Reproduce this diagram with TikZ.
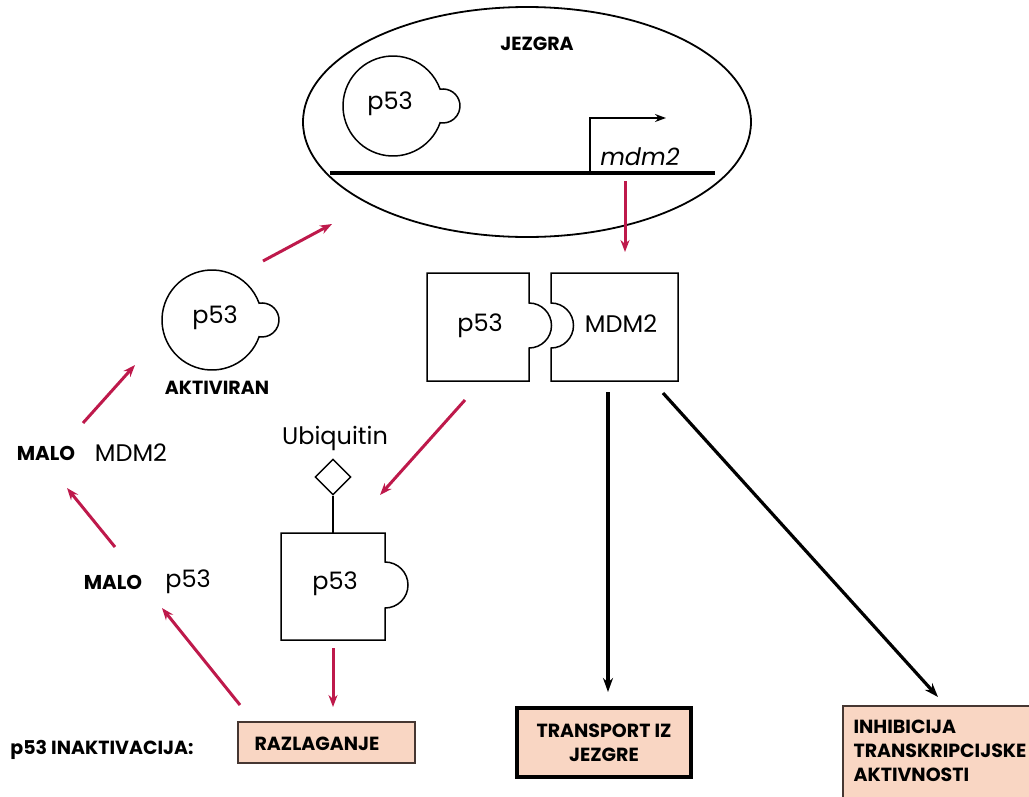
\documentclass[tikz,border=0pt]{standalone}
\usepackage{fontspec}
\setmainfont{Poppins}
\usetikzlibrary{arrows.meta,shapes.geometric,positioning}
\definecolor{arrowred}{RGB}{190,25,75}
\definecolor{peachfill}{RGB}{249,214,195}
\definecolor{boxedge}{RGB}{70,55,50}
\tikzset{
  blob/.pic={\draw[line width=1.5pt] (19.6:50) arc[start angle=19.6,end angle=340.4,radius=50]
               arc[start angle=-99.8,end angle=99.8,radius=17] -- cycle;}
}

\begin{document}
\begin{tikzpicture}[x=1pt,y=-1pt,
    lbl/.style={font=\fontsize{24}{28}\selectfont},
    caps/.style={font=\bfseries\fontsize{19}{24}\selectfont},
    smallcaps/.style={font=\bfseries\fontsize{20}{24}\selectfont},
    redarr/.style={draw=arrowred,line width=3pt,-{Stealth[length=12pt,width=9pt]}},
    blackarr/.style={line width=3.2pt,-{Stealth[length=14pt,width=10pt]}},
    piece/.style={line width=1.5pt}]
  \path[use as bounding box] (0,0) rectangle (1029,796);
  \clip (0,0) rectangle (1029,796);

  % jezgra
  \node[draw,ellipse,line width=1.8pt,minimum width=448pt,minimum height=230pt] (jezgra) at (527,122) {};
  \node[caps] (jez) at (537,44) {JEZGRA};
  \pic at (393,106) {blob};
  \node[lbl] (p53n) at (390,104) {p53};
  \draw[line width=3.2pt] (330,173) -- (715,173);
  \draw[line width=1.4pt,-{Stealth[length=11pt,width=8pt]}] (590,173) -- (590,118) -- (666,118);
  \node[lbl,font=\itshape\fontsize{24}{28}\selectfont] (gen) at (640,157) {mdm2};

  % p53 - MDM2
  \draw[piece] (427,273) -- (529,273) -- (529,303) arc[start angle=-90,end angle=90,radius=22.5]
    -- (529,381) -- (427,381) -- cycle;
  \draw[piece] (551,273) -- (678,273) -- (678,381) -- (551,381) -- (551,348)
    arc[start angle=90,end angle=-90,radius=22.5] -- cycle;
  \node[lbl] (cp) at (480,326) {p53};
  \node[lbl] (cm) at (621,324) {MDM2};

  % aktiviran
  \pic at (212,320) {blob};
  \node[lbl] (akt) at (215,318) {p53};
  \node[caps] (aktl) at (217,388) {AKTIVIRAN};

  % ubiquitin
  \node[lbl] (ubq) at (335,438) {Ubiquitin};
  \node[draw,diamond,line width=1.4pt,minimum width=36pt,minimum height=36pt,inner sep=0pt] (dia) at (333,477) {};
  \draw[piece] (281,533) -- (385,533) -- (385,562) arc[start angle=-90,end angle=90,radius=23]
    -- (385,640) -- (281,640) -- cycle;
  \coordinate (ubtop) at (333,533);
  \draw[piece] (dia.south) -- (ubtop);
  \node[lbl] (ub) at (335,584) {p53};

  % malo
  \node[smallcaps] (malo1) at (46,453) {MALO};
  \node[lbl] (mdml) at (131,453) {MDM2};
  \node[smallcaps] (malo2) at (113,582) {MALO};
  \node[lbl] (p53l) at (188,582) {p53};

  % boxes
  \node[caps] (inakt) at (102,750) {p53 INAKTIVACIJA:};
  \node[draw=boxedge,fill=peachfill,line width=2.2pt,minimum width=177pt,minimum height=41pt] (razl) at (326.5,742.5) {};
  \node[caps] (razlt) at (317,744) {RAZLAGANJE};
  \node[draw,fill=peachfill,line width=3.2pt,minimum width=174pt,minimum height=69pt,align=center,caps] (transp) at (604,742.5) {TRANSPORT IZ\\JEZGRE};
  \node[draw=boxedge,fill=peachfill,line width=1.6pt,anchor=north west,minimum width=200pt,minimum height=110pt] (inhibbox) at (842,705) {};
  \node[caps,anchor=west,align=left] (inhib) at (850,751) {INHIBICIJA\\TRANSKRIPCIJSKE\\AKTIVNOSTI};

  % arrow ends
  \coordinate (genout) at (625,181);
  \coordinate (cmin) at (625,252);
  \coordinate (aktout) at (263,261);
  \coordinate (jezin) at (332,224);
  \coordinate (mdmlout) at (83,423);
  \coordinate (aktin) at (135,365);
  \coordinate (p53lout) at (115,547);
  \coordinate (mdmlin) at (67,488);
  \coordinate (razlout) at (240,705);
  \coordinate (p53lin) at (162,608);
  \coordinate (cpout) at (465,400);
  \coordinate (ubin) at (380,495);
  \coordinate (ubout) at (333,648);
  \coordinate (razlin) at (333,707);
  \coordinate (cmout) at (608,392);
  \coordinate (transpin) at (608,692);
  \coordinate (cmout2) at (663,393);
  \coordinate (inhibin) at (938,697);

  \draw[redarr] (genout) -- (cmin);
  \draw[redarr] (aktout) -- (jezin);
  \draw[redarr] (mdmlout) -- (aktin);
  \draw[redarr] (p53lout) -- (mdmlin);
  \draw[redarr] (razlout) -- (p53lin);
  \draw[redarr] (cpout) -- (ubin);
  \draw[redarr] (ubout) -- (razlin);
  \draw[blackarr] (cmout) -- (transpin);
  \draw[blackarr] (cmout2) -- (inhibin);
\end{tikzpicture}
\end{document}
